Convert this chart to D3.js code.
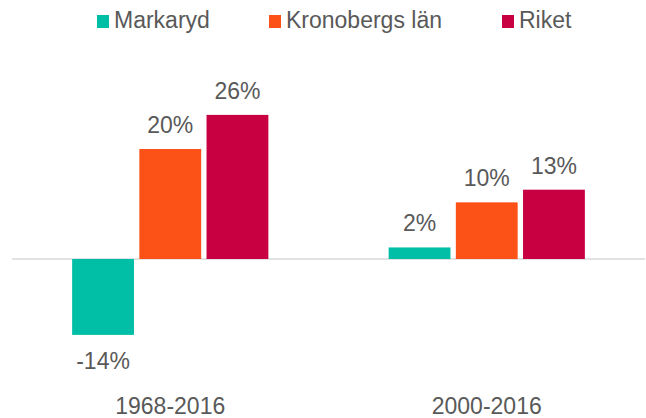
<!DOCTYPE html>
<html>
<head>
<meta charset="utf-8">
<script src="https://cdn.jsdelivr.net/npm/d3@7"></script>
<style>
  body { margin: 0; background: #fff; }
  svg text { font-family: "Liberation Sans", Arial, sans-serif; fill: #595959; }
</style>
</head>
<body>
<div id="vis"></div>
<script>
// data
var periods = ['1968-2016', '2000-2016'];
var series = ['Markaryd', 'Kronobergs län', 'Riket'];
var markaryd = [-13.8, 2.1];
var kronoberg = [20.0, 10.3];
var riket = [26.2, 12.6];
var colors = ['#00bfa6', '#fc5117', '#c80041'];

var width = 646;
var height = 418;

var svg = d3.select('#vis').append('svg')
  .attr('width', width)
  .attr('height', height);

var values = [markaryd, kronoberg, riket];
var rows = [];
periods.forEach(function (p, i) {
  series.forEach(function (s, j) {
    rows.push({ period: p, name: s, idx: j, value: values[j][i] });
  });
});

var x0 = d3.scaleBand()
  .domain(periods)
  .range([12, 645])
  .paddingInner(0.38)
  .paddingOuter(0.19);

var x1 = d3.scaleBand()
  .domain(series)
  .range([0, x0.bandwidth()])
  .paddingInner(0.08);

var y = d3.scaleLinear()
  .domain([-20, 30])
  .range([369, 94]);

// zero line
svg.append('line')
  .attr('x1', 12)
  .attr('x2', 645)
  .attr('y1', y(0))
  .attr('y2', y(0))
  .attr('stroke', '#d9d9d9')
  .attr('stroke-width', 1.5);

var bars = svg.append('g');
bars.selectAll('rect')
  .data(rows)
  .enter()
  .append('rect')
  .attr('x', function (d) { return x0(d.period) + x1(d.name); })
  .attr('y', function (d) { return y(Math.max(0, d.value)); })
  .attr('width', x1.bandwidth())
  .attr('height', function (d) { return Math.abs(y(d.value) - y(0)); })
  .attr('fill', function (d) { return colors[d.idx]; });

// value labels
bars.selectAll('text')
  .data(rows)
  .enter()
  .append('text')
  .attr('x', function (d) { return x0(d.period) + x1(d.name) + x1.bandwidth() / 2; })
  .attr('y', function (d) { return d.value >= 0 ? y(d.value) - 16 : y(d.value) + 34; })
  .attr('text-anchor', 'middle')
  .style('font-size', '23px')
  .text(function (d) { return Math.round(d.value) + '%'; });

// category labels
svg.append('g').selectAll('text')
  .data(periods)
  .enter()
  .append('text')
  .attr('x', function (d) { return x0(d) + x0.bandwidth() / 2; })
  .attr('y', 414)
  .attr('text-anchor', 'middle')
  .style('font-size', '23px')
  .text(function (d) { return d; });

// legend
var legendX = [97, 269, 502];
var legend = svg.append('g').selectAll('g')
  .data(series)
  .enter()
  .append('g')
  .attr('transform', function (d, i) { return 'translate(' + legendX[i] + ',0)'; });

legend.append('rect')
  .attr('x', 0)
  .attr('y', 15)
  .attr('width', 12)
  .attr('height', 13)
  .attr('fill', function (d, i) { return colors[i]; });

legend.append('text')
  .attr('x', 17)
  .attr('y', 28)
  .style('font-size', '23px')
  .text(function (d) { return d; });
</script>
</body>
</html>
